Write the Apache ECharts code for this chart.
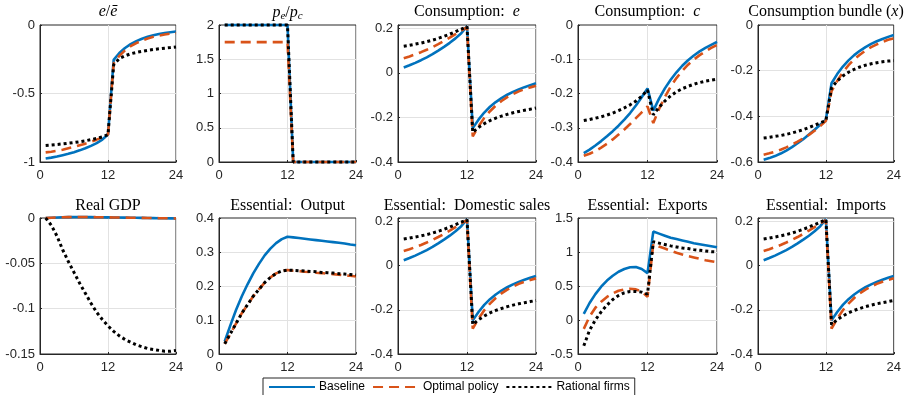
<!DOCTYPE html>
<html>
<head>
<meta charset="utf-8">
<script src="https://cdn.jsdelivr.net/npm/echarts@6/dist/echarts.min.js"></script>
<style>
  html, body { margin: 0; padding: 0; background: #fff; }
  #chart { width: 904px; height: 395px; }
</style>
</head>
<body>
<div id="chart"></div>
<script>
// months after the shock
const months = [1, 2, 3, 4, 5, 6, 7, 8, 9, 10, 11, 12, 13, 14, 15, 16, 17, 18, 19, 20, 21, 22, 23, 24];
const legendNames = ['Baseline', 'Optimal policy', 'Rational firms'];

// e / e-bar
const eRatioBase = [-0.975, -0.968, -0.96, -0.95, -0.94, -0.928, -0.915, -0.9, -0.882, -0.862, -0.836, -0.8,
  -0.255, -0.205, -0.168, -0.14, -0.118, -0.1, -0.086, -0.075, -0.066, -0.059, -0.053, -0.048];
const eRatioOpt = [-0.93, -0.925, -0.918, -0.91, -0.9, -0.89, -0.878, -0.866, -0.852, -0.837, -0.82, -0.8,
  -0.28, -0.225, -0.185, -0.155, -0.132, -0.113, -0.098, -0.086, -0.077, -0.069, -0.063, -0.058];
const eRatioRat = [-0.879, -0.876, -0.872, -0.868, -0.863, -0.858, -0.852, -0.845, -0.837, -0.828, -0.817, -0.8,
  -0.29, -0.245, -0.225, -0.21, -0.2, -0.192, -0.185, -0.179, -0.174, -0.169, -0.165, -0.16];

// p_e / p_c
const priceBase = [2, 2, 2, 2, 2, 2, 2, 2, 2, 2, 2, 2, 0, 0, 0, 0, 0, 0, 0, 0, 0, 0, 0, 0];
const priceOpt = [1.75, 1.75, 1.75, 1.75, 1.75, 1.75, 1.75, 1.75, 1.75, 1.75, 1.75, 1.75, 0, 0, 0, 0, 0, 0, 0, 0, 0, 0, 0, 0];
const priceRat = [2, 2, 2, 2, 2, 2, 2, 2, 2, 2, 2, 2, 0, 0, 0, 0, 0, 0, 0, 0, 0, 0, 0, 0];

// consumption of essential good (same path for domestic sales and imports)
const consEBase = [0.024, 0.034, 0.045, 0.057, 0.07, 0.084, 0.1, 0.117, 0.135, 0.155, 0.178, 0.21,
  -0.248, -0.21, -0.178, -0.152, -0.131, -0.113, -0.098, -0.085, -0.074, -0.064, -0.055, -0.047];
const consEOpt = [0.066, 0.074, 0.083, 0.093, 0.104, 0.116, 0.129, 0.143, 0.158, 0.174, 0.19, 0.205,
  -0.285, -0.24, -0.202, -0.172, -0.147, -0.126, -0.109, -0.095, -0.083, -0.073, -0.065, -0.058];
const consERat = [0.12, 0.124, 0.129, 0.134, 0.14, 0.147, 0.155, 0.164, 0.174, 0.185, 0.196, 0.208,
  -0.267, -0.245, -0.228, -0.214, -0.203, -0.194, -0.186, -0.179, -0.173, -0.168, -0.163, -0.158];

// consumption of c
const consCBase = [-0.374, -0.364, -0.352, -0.339, -0.325, -0.31, -0.294, -0.276, -0.257, -0.235, -0.211, -0.185,
  -0.25, -0.215, -0.185, -0.16, -0.138, -0.119, -0.103, -0.089, -0.077, -0.067, -0.058, -0.049];
const consCOpt = [-0.382, -0.376, -0.368, -0.358, -0.347, -0.334, -0.32, -0.305, -0.289, -0.272, -0.255, -0.238,
  -0.286, -0.245, -0.21, -0.18, -0.155, -0.134, -0.116, -0.101, -0.088, -0.077, -0.067, -0.058];
const consCRat = [-0.279, -0.276, -0.272, -0.268, -0.263, -0.257, -0.25, -0.242, -0.233, -0.222, -0.208, -0.19,
  -0.262, -0.24, -0.222, -0.207, -0.195, -0.186, -0.179, -0.173, -0.168, -0.164, -0.161, -0.158];

// consumption bundle x
const bundleBase = [-0.59, -0.583, -0.574, -0.563, -0.55, -0.535, -0.518, -0.5, -0.48, -0.459, -0.437, -0.415,
  -0.255, -0.215, -0.182, -0.155, -0.132, -0.113, -0.097, -0.083, -0.071, -0.061, -0.052, -0.044];
const bundleOpt = [-0.568, -0.562, -0.555, -0.546, -0.536, -0.524, -0.511, -0.497, -0.481, -0.463, -0.443, -0.42,
  -0.29, -0.245, -0.207, -0.176, -0.151, -0.13, -0.112, -0.097, -0.085, -0.074, -0.065, -0.058];
const bundleRat = [-0.495, -0.492, -0.488, -0.484, -0.479, -0.473, -0.466, -0.458, -0.449, -0.439, -0.429, -0.418,
  -0.275, -0.245, -0.223, -0.207, -0.194, -0.184, -0.176, -0.17, -0.165, -0.161, -0.158, -0.156];

// real GDP
const gdpBase = [0, 0.0003, 0.0006, 0.0008, 0.001, 0.0011, 0.0011, 0.0011, 0.001, 0.0009, 0.0008, 0.0007,
  0.0006, 0.0005, 0.0004, 0.0003, 0.0002, 0.0001, 0, -0.0001, -0.0002, -0.0003, -0.0004, -0.0005];
const gdpOpt = [0, 0.0003, 0.0006, 0.0008, 0.001, 0.0011, 0.0011, 0.0011, 0.001, 0.0009, 0.0008, 0.0007,
  0.0006, 0.0005, 0.0004, 0.0003, 0.0002, 0.0001, 0, -0.0001, -0.0002, -0.0003, -0.0004, -0.0005];
const gdpRat = [0, -0.008, -0.02, -0.035, -0.048, -0.06, -0.072, -0.083, -0.094, -0.104, -0.112, -0.119,
  -0.125, -0.13, -0.134, -0.137, -0.14, -0.142, -0.144, -0.145, -0.146, -0.147, -0.147, -0.146];

// essential: output
const outBase = [0.037, 0.085, 0.13, 0.17, 0.205, 0.237, 0.265, 0.29, 0.31, 0.326, 0.338, 0.345,
  0.343, 0.341, 0.339, 0.337, 0.335, 0.333, 0.331, 0.329, 0.327, 0.325, 0.322, 0.32];
const outOpt = [0.03, 0.06, 0.09, 0.12, 0.145, 0.17, 0.19, 0.21, 0.225, 0.237, 0.244, 0.247,
  0.245, 0.244, 0.242, 0.241, 0.239, 0.238, 0.236, 0.235, 0.233, 0.231, 0.23, 0.228];
const outRat = [0.03, 0.06, 0.09, 0.12, 0.145, 0.17, 0.19, 0.21, 0.225, 0.237, 0.244, 0.247,
  0.246, 0.245, 0.244, 0.243, 0.242, 0.24, 0.239, 0.238, 0.236, 0.235, 0.234, 0.232];

// essential: exports
const expBase = [0.09, 0.25, 0.38, 0.49, 0.58, 0.65, 0.71, 0.75, 0.775, 0.78, 0.75, 0.69,
  1.3, 1.27, 1.24, 1.21, 1.19, 1.17, 1.15, 1.13, 1.115, 1.1, 1.085, 1.07];
const expOpt = [-0.13, 0.05, 0.18, 0.27, 0.34, 0.39, 0.43, 0.45, 0.46, 0.45, 0.42, 0.34,
  1.12, 1.08, 1.05, 1.02, 0.99, 0.965, 0.94, 0.92, 0.9, 0.88, 0.865, 0.85];
const expRat = [-0.38, -0.15, 0, 0.12, 0.22, 0.3, 0.36, 0.4, 0.42, 0.42, 0.41, 0.38,
  1.15, 1.13, 1.11, 1.09, 1.075, 1.06, 1.05, 1.035, 1.025, 1.015, 1.005, 1];

const xTicks = [0, 12, 24];

const panels = [
  { title: '{i|e}/{i|ē}', y: [-1, 0, 0.5], data: [eRatioBase, eRatioOpt, eRatioRat] },
  { title: '{i|p}{s|e}/{i|p}{s|c}', y: [0, 2, 0.5], data: [priceBase, priceOpt, priceRat] },
  { title: 'Consumption:  {i|e}', y: [-0.4, 0.215, 0.2], data: [consEBase, consEOpt, consERat] },
  { title: 'Consumption:  {i|c}', y: [-0.4, 0, 0.1], data: [consCBase, consCOpt, consCRat] },
  { title: 'Consumption bundle ({i|x})', y: [-0.6, 0, 0.2], data: [bundleBase, bundleOpt, bundleRat] },
  { title: 'Real GDP', y: [-0.15, 0, 0.05], data: [gdpBase, gdpOpt, gdpRat] },
  { title: 'Essential:  Output', y: [0, 0.4, 0.1], data: [outBase, outOpt, outRat] },
  { title: 'Essential:  Domestic sales', y: [-0.4, 0.215, 0.2], data: [consEBase, consEOpt, consERat] },
  { title: 'Essential:  Exports', y: [-0.5, 1.5, 0.5], data: [expBase, expOpt, expRat] },
  { title: 'Essential:  Imports', y: [-0.4, 0.215, 0.2], data: [consEBase, consEOpt, consERat] }
];

const colLeft = [40, 219, 398, 578, 758];
const colWidth = [136, 137, 138, 139, 136];
const rowTop = [25, 218];
const rowHeight = [137, 136];
const titleTop = [4, 198];

const lineStyles = [
  { color: '#0072BD', width: 2.6, type: 'solid' },
  { color: '#D95319', width: 2.6, type: [10, 6] },
  { color: '#000000', width: 3, type: [3, 3] }
];

const grids = [], xAxes = [], yAxes = [], titles = [], series = [];

panels.forEach((p, k) => {
  const row = Math.floor(k / 5), col = k % 5;
  grids.push({
    left: colLeft[col], top: rowTop[row], width: colWidth[col], height: rowHeight[row],
    show: true, borderColor: '#262626', borderWidth: 1, backgroundColor: 'transparent'
  });
  titles.push({
    text: p.title,
    left: colLeft[col] + colWidth[col] / 2,
    top: titleTop[row],
    padding: 0,
    textAlign: 'center',
    textStyle: {
      fontFamily: 'Liberation Serif', fontSize: 16, fontWeight: 'normal', color: '#000',
      rich: {
        i: { fontFamily: 'Liberation Serif', fontStyle: 'italic', fontSize: 16, color: '#000' },
        s: { fontFamily: 'Liberation Serif', fontStyle: 'italic', fontSize: 11, color: '#000', padding: [7, 0, 0, 0] }
      }
    }
  });
  xAxes.push({
    gridIndex: k, type: 'value', min: 0, max: 24, interval: 12,
    axisLine: { show: true, onZero: false, lineStyle: { color: '#262626', width: 1 } },
    axisTick: { show: true, inside: true, length: 2, lineStyle: { color: '#262626' } },
    axisLabel: { color: '#262626', fontFamily: 'Liberation Sans', fontSize: 13, margin: 7,
      formatter: v => (xTicks.indexOf(v) >= 0 ? String(v) : '') },
    splitLine: { show: true, lineStyle: { color: '#e2e2e2', width: 1 } }
  });
  const [ymin, ymax, step] = p.y;
  yAxes.push({
    gridIndex: k, type: 'value', min: ymin, max: ymax, interval: step,
    axisLine: { show: true, onZero: false, lineStyle: { color: '#262626', width: 1 } },
    axisTick: { show: true, inside: true, length: 2, lineStyle: { color: '#262626' } },
    axisLabel: { color: '#262626', fontFamily: 'Liberation Sans', fontSize: 13, margin: 5,
      formatter: v => {
        const r = v / step;
        if (Math.abs(r - Math.round(r)) > 1e-6) return '';
        return String(Math.round(v * 1000) / 1000);
      } },
    splitLine: { show: true, showMaxLine: false, lineStyle: { color: '#e2e2e2', width: 1 } }
  });
  p.data.forEach((arr, j) => {
    series.push({
      name: legendNames[j], type: 'line', xAxisIndex: k, yAxisIndex: k,
      data: months.map((m, i) => [m, arr[i]]),
      symbol: 'none', showSymbol: false, silent: true, clip: false,
      lineStyle: Object.assign({ cap: 'butt' }, lineStyles[j]),
      itemStyle: { color: lineStyles[j].color },
      z: 2 + j
    });
  });
});

const chart = echarts.init(document.getElementById('chart'), null, { renderer: 'canvas' });
chart.setOption({
  animation: false,
  backgroundColor: '#fff',
  title: titles,
  grid: grids,
  xAxis: xAxes,
  yAxis: yAxes,
  legend: {
    data: legendNames,
    left: 263, top: 378,
    orient: 'horizontal',
    itemWidth: 46, itemHeight: 12, itemGap: 7,
    padding: [3, 5, 6, 5],
    borderColor: '#262626', borderWidth: 1, backgroundColor: '#fff',
    itemStyle: { color: 'transparent', borderColor: 'transparent', borderWidth: 0 },
    textStyle: { fontFamily: 'Liberation Sans', fontSize: 12, color: '#000', padding: [0, 0, 0, -1] }
  },
  series: series
});
</script>
</body>
</html>
